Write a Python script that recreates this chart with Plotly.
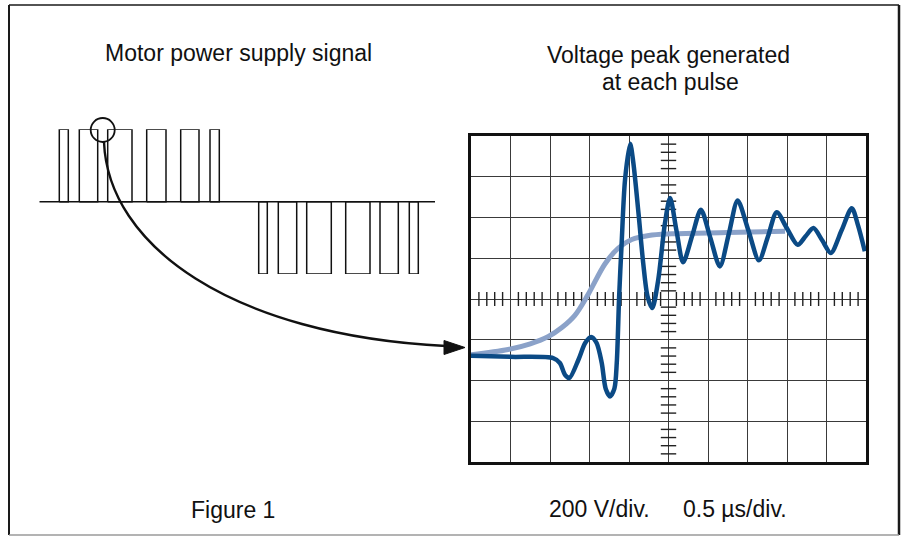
import plotly.graph_objects as go

W, H = 905, 536

# --- Motor supply PWM pulses (time units along the left strip) ---
pos_starts = [20.0, 40.0, 68.4, 107.4, 141.4, 170.7]
pos_ends = [29.0, 58.4, 92.7, 126.7, 159.7, 180.0]
neg_starts = [219.4, 239.0, 267.4, 306.4, 340.7, 370.0]
neg_ends = [228.0, 257.4, 292.0, 330.7, 359.0, 379.0]
strip_length = 395.7

# --- Oscilloscope traces (x in time divisions, y in voltage divisions) ---
ref_t = [0.0, 0.94, 1.5, 1.96, 2.3, 2.63, 2.97, 3.39, 3.73, 4.07, 4.5, 5.08, 6.5, 7.95]
ref_v = [-1.37, -1.24, -1.1, -0.92, -0.7, -0.4, 0.12, 0.86, 1.25, 1.46, 1.56, 1.6, 1.63, 1.66]

peak_t = [0.0, 1.0, 2.08, 2.25, 2.38, 2.49, 2.72, 2.89, 3.04, 3.18, 3.31, 3.41, 3.52,
          3.63, 3.69, 3.75, 3.81, 3.90, 4.03, 4.11, 4.24, 4.36, 4.47, 4.59, 4.74, 4.91,
          5.04, 5.2, 5.37, 5.6, 5.82, 6.06, 6.30, 6.53, 6.75, 7.02, 7.29, 7.52, 7.74,
          8.0, 8.27, 8.47, 8.67, 8.89, 9.11, 9.38, 9.64, 9.8, 9.97]
peak_v = [-1.39, -1.42, -1.45, -1.57, -1.86, -1.94, -1.49, -1.08, -0.93, -1.08, -1.57, -2.2, -2.39,
          -2.2, -1.57, 0.06, 1.29, 2.93, 3.81, 3.34, 2.11, 0.88, 0.06, -0.22, 0.47, 1.86,
          2.48, 1.69, 0.90, 1.55, 2.19, 1.5, 0.80, 1.61, 2.42, 1.69, 0.95, 1.54, 2.13,
          1.73, 1.33, 1.54, 1.74, 1.44, 1.13, 1.68, 2.23, 1.8, 1.17]

FONT = "Liberation Sans, Arial, sans-serif"
DARK = "#0b4a85"
LIGHT = "#8ba2c9"

fig = go.Figure()

# Pulse train: baseline plus one rectangle per pulse
px, py = [0, strip_length, None], [0, 0, None]
for s, e in zip(pos_starts, pos_ends):
    px += [s, s, e, e, s, None]
    py += [0, 1, 1, 0, 0, None]
for s, e in zip(neg_starts, neg_ends):
    px += [s, s, e, e, s, None]
    py += [0, -1, -1, 0, 0, None]
fig.add_trace(go.Scatter(x=px, y=py, mode="lines", xaxis="x3", yaxis="y3",
                         line=dict(color="#111111", width=1.5), hoverinfo="skip"))

# Graticule minor ticks on the centre axes
h_ticks = [i / 5 for i in range(1, 50) if i % 5]
v_ticks = [i / 5 for i in range(-19, 20) if i % 5]
fig.add_trace(go.Scatter(x=h_ticks, y=[0] * len(h_ticks), mode="markers", xaxis="x2", yaxis="y2",
                         marker=dict(symbol="line-ns", size=10, line=dict(width=1.4, color="#222")),
                         hoverinfo="skip"))
fig.add_trace(go.Scatter(x=[5] * len(v_ticks), y=v_ticks, mode="markers", xaxis="x2", yaxis="y2",
                         marker=dict(symbol="line-ew", size=11, line=dict(width=1.4, color="#222")),
                         hoverinfo="skip"))

fig.add_trace(go.Scatter(x=ref_t, y=ref_v, mode="lines", xaxis="x2", yaxis="y2",
                         line=dict(color=LIGHT, width=5, shape="spline", smoothing=1.0),
                         hoverinfo="skip"))
fig.add_trace(go.Scatter(x=peak_t, y=peak_v, mode="lines", xaxis="x2", yaxis="y2",
                         line=dict(color=DARK, width=4.5, shape="spline", smoothing=0.8),
                         hoverinfo="skip"))

hidden = dict(visible=False, showgrid=False, zeroline=False, fixedrange=True)
fig.update_layout(
    width=W, height=H, margin=dict(l=0, r=0, t=0, b=0),
    paper_bgcolor="white", plot_bgcolor="white", showlegend=False,
    xaxis=dict(range=[0, W], domain=[0, 1], **hidden),
    yaxis=dict(range=[H, 0], domain=[0, 1], **hidden),
    xaxis2=dict(range=[0, 10], domain=[471 / W, 866 / W], anchor="y2",
                dtick=1, tick0=0, showgrid=True, gridcolor="#3a3a3a", gridwidth=1.3,
                zeroline=False, showticklabels=False, ticks="",
                showline=True, linecolor="#111", linewidth=3, mirror=True, fixedrange=True),
    yaxis2=dict(range=[-4, 4], domain=[(H - 462) / H, (H - 136) / H], anchor="x2",
                dtick=1, tick0=0, showgrid=True, gridcolor="#3a3a3a", gridwidth=1.3,
                zeroline=False, showticklabels=False, ticks="",
                showline=True, linecolor="#111", linewidth=3, mirror=True, fixedrange=True),
    xaxis3=dict(range=[0, strip_length], domain=[39.3 / W, 435 / W], anchor="y3", **hidden),
    yaxis3=dict(range=[-1, 1], domain=[(H - 274) / H, (H - 129.3) / H], anchor="x3", **hidden),
)

shapes = [
    # frame
    dict(type="line", x0=9, y0=5, x1=899, y1=5, line=dict(color="#1a1a1a", width=1.6)),
    dict(type="line", x0=9, y0=5, x1=9, y1=535, line=dict(color="#1a1a1a", width=2)),
    dict(type="line", x0=899, y0=5, x1=899, y1=535, line=dict(color="#1a1a1a", width=2.5)),
    dict(type="line", x0=9, y0=535, x1=899, y1=535, line=dict(color="#9a9a9a", width=1.5)),
    # highlight circle on one pulse
    dict(type="circle", x0=90.7, y0=118, x1=114.7, y1=142, line=dict(color="#111", width=1.8)),
    # connector arrow to the scope
    dict(type="path", path="M 104 142 C 108 245 230 335 446 346",
         line=dict(color="#111", width=2.4)),
    dict(type="path", path="M 465 347.5 L 444 340.5 L 444 354.5 Z",
         line=dict(color="#111", width=1), fillcolor="#111"),
]
for s in shapes:
    s.update(xref="x", yref="y", layer="above")
fig.update_layout(shapes=shapes)

def label(text, x, y):
    fig.add_annotation(text=text, x=x, y=y, xref="x", yref="y", showarrow=False,
                       xanchor="center", yanchor="middle",
                       font=dict(family=FONT, size=23, color="#111"))

label("Motor power supply signal", 238.5, 53)
label("Voltage peak generated", 668, 55)
label("at each pulse", 670, 82)
label("Figure 1", 233, 510)
label("200 V/div.", 599, 509)
label("0.5 µs/div.", 735, 509)

fig.write_html("out.html")
